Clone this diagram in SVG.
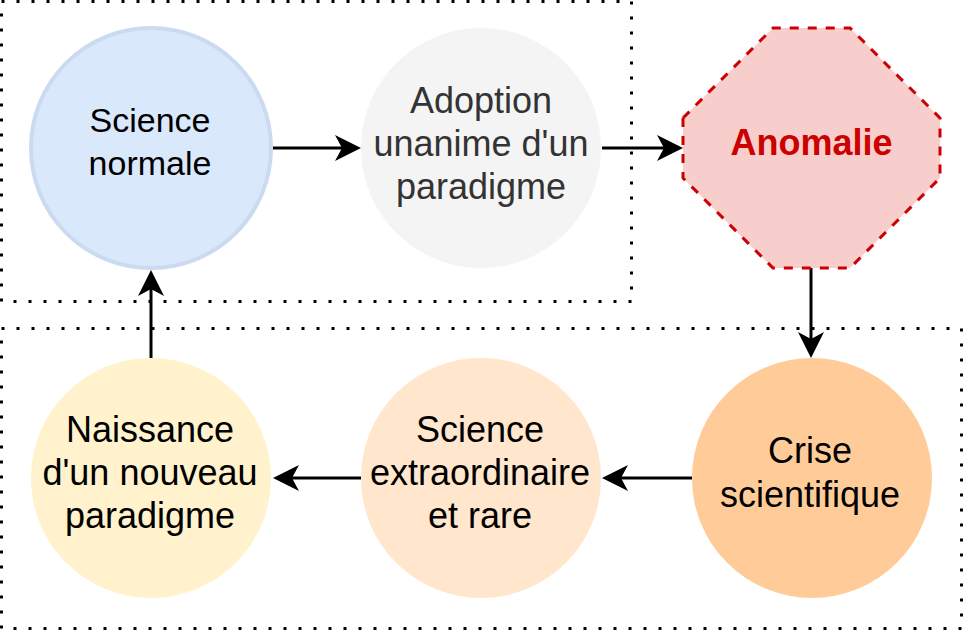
<svg xmlns="http://www.w3.org/2000/svg" width="963" height="630" viewBox="0 0 963 630">
<style>
.frame{fill:none;stroke:#000;stroke-width:3;stroke-dasharray:3 12;}
.lbl{font-family:"Liberation Sans",Arial,sans-serif;font-size:36px;text-anchor:middle;fill:#000;}
.edge{fill:none;stroke:#000;stroke-width:3;marker-end:url(#arrow);}
</style>
<defs>
<marker id="arrow" markerUnits="userSpaceOnUse" viewBox="0 0 26 26" markerWidth="26" markerHeight="26" refX="7" refY="13" orient="auto">
<path d="M26,13 L0,0 L7,13 L0,26 Z" fill="#000"/>
</marker>
</defs>
<rect class="frame" x="1.5" y="1.5" width="630" height="300"/>
<rect class="frame" x="1.5" y="328.5" width="960" height="300"/>
<g id="connectors">
<path class="edge" d="M273,148 L342,148"/>
<path class="edge" d="M602,148 L664,148"/>
<path class="edge" d="M811,268 L811,339"/>
<path class="edge" d="M692,478 L621,478"/>
<path class="edge" d="M361,478 L292,478"/>
<path class="edge" d="M151,358 L151,289"/>
</g>
<g id="science-normale">
<circle cx="151" cy="148" r="120" fill="#dae8fc" stroke="#cbdaf0" stroke-width="4"/>
<text class="lbl" x="150" y="132" style="font-size:34px">Science</text>
<text class="lbl" x="150" y="175" style="font-size:34px">normale</text>
</g>
<g id="adoption">
<circle cx="481" cy="148" r="120" fill="#f4f4f4"/>
<text class="lbl" x="481" y="113" style="fill:#333">Adoption</text>
<text class="lbl" x="481" y="156" style="fill:#333">unanime d'un</text>
<text class="lbl" x="481" y="199" style="fill:#333">paradigme</text>
</g>
<g id="anomalie">
<polygon points="683,118 773,28 850,28 940,118 940,178 850,268 773,268 683,178" fill="#f8cecc" stroke="#cc0000" stroke-width="3" stroke-dasharray="9 9"/>
<text class="lbl" x="811.5" y="155" style="fill:#cc0000;font-weight:bold">Anomalie</text>
</g>
<g id="crise">
<circle cx="812" cy="478" r="120" fill="#ffcc99"/>
<text class="lbl" x="810" y="463">Crise</text>
<text class="lbl" x="810" y="507">scientifique</text>
</g>
<g id="science-extraordinaire">
<circle cx="481" cy="478" r="120" fill="#ffe6cc"/>
<text class="lbl" x="480" y="442">Science</text>
<text class="lbl" x="480" y="485">extraordinaire</text>
<text class="lbl" x="480" y="528">et rare</text>
</g>
<g id="naissance">
<circle cx="151" cy="478" r="120" fill="#fff2cc"/>
<text class="lbl" x="150" y="442">Naissance</text>
<text class="lbl" x="150" y="485">d'un nouveau</text>
<text class="lbl" x="150" y="528">paradigme</text>
</g>
</svg>
